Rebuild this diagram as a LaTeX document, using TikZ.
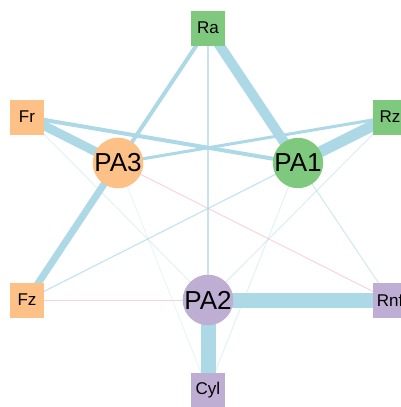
\documentclass[tikz,border=0pt]{standalone}
\usepackage{fontspec}
\setmainfont{Liberation Sans}
\usetikzlibrary{backgrounds}
\definecolor{accgreen}{HTML}{7FC97F}
\definecolor{accpurple}{HTML}{BEAED4}
\definecolor{accorange}{HTML}{FDC086}
\definecolor{edgeblue}{HTML}{ADD8E6}
\definecolor{edgepink}{HTML}{F4B8C4}
\begin{document}
\begin{tikzpicture}[x=1pt,y=-1pt,
  sq/.style={rectangle, minimum width=34pt, minimum height=35pt, inner sep=0pt, font=\fontsize{17}{17}\selectfont},
  hub/.style={circle, minimum size=50pt, inner sep=0pt, font=\fontsize{26}{26}\selectfont},
  gr/.style={fill=accgreen},
  pu/.style={fill=accpurple},
  orr/.style={fill=accorange},
  be/.style={draw=edgeblue, line cap=butt},
  pe/.style={draw=edgepink, line width=1pt, opacity=0.6}]
\useasboundingbox (0,0) rectangle (401,407);
\node[sq,gr] (Ra) at (208,28) {Ra};
\node[sq,orr] (Fr) at (27,117) {Fr};
\node[sq,gr] (Rz) at (390,117) {Rz};
\node[sq,orr] (Fz) at (27,300) {Fz};
\node[sq,pu] (Rnf) at (390,300) {Rnf};
\node[sq,pu] (Cyl) at (208,390) {Cyl};
\node[hub,orr] (PA3) at (118,163) {PA3};
\node[hub,gr] (PA1) at (298,163) {PA1};
\node[hub,pu] (PA2) at (208,300) {PA2};
\begin{pgfonlayer}{background}
% thin connectors
\draw[be, line width=1.2pt, opacity=0.7] (Ra.center) -- (PA2.center);
\draw[be, line width=1.2pt, opacity=0.7] (Fz.center) -- (PA1.center);
\draw[be, line width=1pt, opacity=0.6] (PA1.center) -- (Rnf.center);
\draw[be, line width=1pt, opacity=0.45] (Rz.center) -- (PA2.center);
\draw[be, line width=1pt, opacity=0.35] (PA1.center) -- (Cyl.center);
\draw[be, line width=1pt, opacity=0.35] (Fr.center) -- (PA2.center);
\draw[be, line width=1pt, opacity=0.25] (PA3.center) -- (Cyl.center);
\draw[pe] (Fz.center) -- (PA2.center);
\draw[pe] (PA3.center) -- (Rnf.center);
% thick connectors
\draw[be, line width=4pt] (Ra.center) -- (PA3.center);
\draw[be, line width=4pt] (Fr.center) -- (PA1.center);
\draw[be, line width=3pt] (Rz.center) -- (PA3.center);
\draw[be, line width=10pt] (Ra.center) -- (PA1.center);
\draw[be, line width=11pt] (Rz.center) -- (PA1.center);
\draw[be, line width=9pt] (Fr.center) -- (PA3.center);
\draw[be, line width=7pt] (Fz.center) -- (PA3.center);
\draw[be, line width=15pt] (PA2.center) -- (Rnf.center);
\draw[be, line width=15pt] (PA2.center) -- (Cyl.center);
\end{pgfonlayer}
\end{tikzpicture}
\end{document}
